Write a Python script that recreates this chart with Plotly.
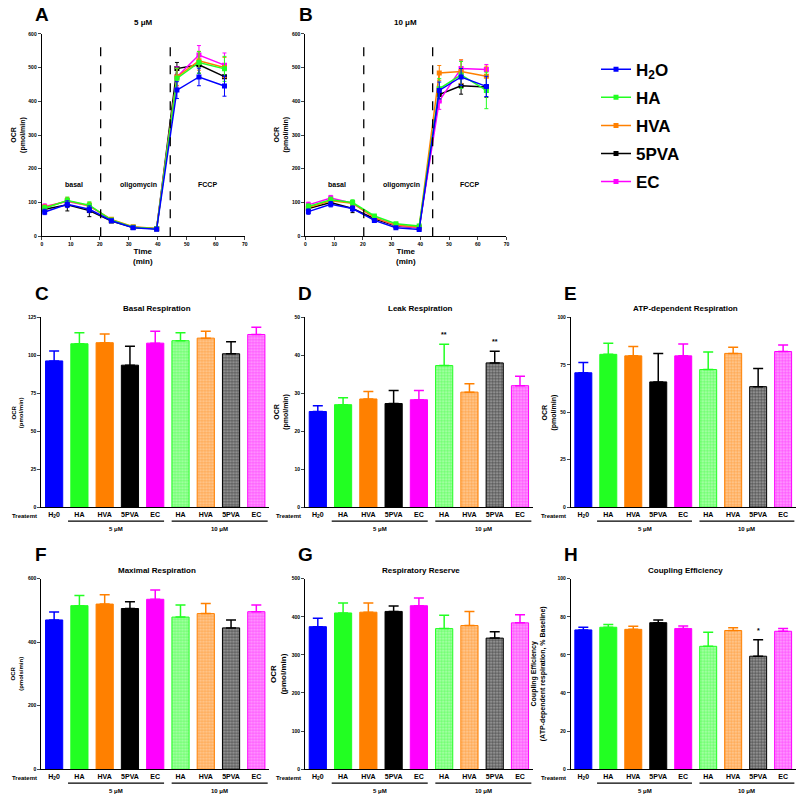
import plotly.graph_objects as go

# ---------------- DATA ----------------
treatments = ["H<sub>2</sub>O", "HA", "HVA", "5PVA", "EC"]
treatment_colors = ["#0000FF", "#22FF22", "#FF8000", "#000000", "#FF00FF"]

time_min = [1.0, 8.8, 16.4, 24.0, 31.5, 39.6, 46.6, 54.2, 63.0]
injection_times = [20.3, 44.3]
phase_labels = ["basal", "oligomycin", "FCCP"]
phase_label_x = [11, 33.5, 57]
phase_label_y = [153, 153, 153]

# Panel A: 5 uM time course (OCR pmol/min) and SEM
ocr_5uM_H2O = [72, 95, 80, 46, 25, 21, 433, 472, 445]
ocr_5uM_HA = [83, 106, 92, 48, 27, 22, 468, 515, 496]
ocr_5uM_HVA = [85, 105, 90, 50, 28, 23, 472, 520, 500]
ocr_5uM_5PVA = [80, 93, 76, 45, 26, 22, 497, 508, 473]
ocr_5uM_EC = [88, 103, 90, 48, 27, 22, 472, 537, 507]
sem_5uM_H2O = [8, 10, 10, 4, 3, 3, 25, 26, 30]
sem_5uM_HA = [8, 10, 10, 4, 3, 3, 30, 32, 37]
sem_5uM_HVA = [8, 10, 10, 4, 3, 3, 25, 28, 30]
sem_5uM_5PVA = [10, 18, 18, 4, 3, 3, 18, 25, 30]
sem_5uM_EC = [8, 10, 8, 4, 3, 3, 30, 28, 36]

# Panel B: 10 uM time course
ocr_10uM_H2O = [73, 95, 82, 47, 25, 20, 432, 472, 444]
ocr_10uM_HA = [88, 108, 100, 60, 37, 30, 437, 478, 432]
ocr_10uM_HVA = [85, 105, 98, 55, 33, 27, 484, 488, 474]
ocr_10uM_5PVA = [82, 100, 82, 52, 30, 25, 420, 446, 442]
ocr_10uM_EC = [93, 113, 98, 55, 32, 25, 401, 497, 494]
sem_10uM_H2O = [8, 8, 8, 4, 3, 3, 25, 25, 30]
sem_10uM_HA = [8, 8, 8, 4, 3, 3, 30, 40, 54]
sem_10uM_HVA = [8, 8, 8, 4, 3, 3, 22, 35, 30]
sem_10uM_5PVA = [8, 8, 12, 4, 3, 3, 20, 25, 30]
sem_10uM_EC = [8, 8, 8, 4, 3, 3, 25, 25, 15]

# Bar panels
bar_labels = ["H<sub>2</sub>0", "HA", "HVA", "5PVA", "EC", "HA", "HVA", "5PVA", "EC"]
bar_colors = ["#0000FF", "#22FF22", "#FF8000", "#000000", "#FF00FF",
              "#22FF22", "#FF8000", "#000000", "#FF00FF"]
bar_tints = ["#0000FF", "#22FF22", "#FF8000", "#000000", "#FF00FF",
             "#B5FFB5", "#FFCFA0", "#A8A8A8", "#FFAAFF"]
bar_patterned = [False, False, False, False, False, True, True, True, True]
group_labels = ["5 \u03bcM", "10 \u03bcM"]

basal_mean = [96.3, 107.6, 108.3, 93.5, 108.0, 109.6, 111.3, 101.0, 113.7]
basal_sem = [6.5, 7.2, 5.7, 12.4, 7.9, 5.2, 4.6, 7.9, 4.8]
leak_mean = [25.2, 27.0, 28.5, 27.3, 28.3, 37.3, 30.3, 38.0, 32.0]
leak_sem = [1.5, 1.8, 2.0, 3.4, 2.4, 5.6, 2.2, 3.1, 2.5]
leak_sig = ["", "", "", "", "", "**", "", "**", ""]
atp_mean = [70.8, 80.5, 79.7, 66.0, 79.7, 72.5, 81.0, 63.5, 82.0]
atp_sem = [5.4, 5.9, 5.0, 14.9, 6.2, 9.2, 3.3, 9.5, 3.4]
maximal_mean = [470, 515, 520, 506, 535, 479, 490, 445, 496]
maximal_sem = [25, 32, 29, 21, 29, 38, 32, 25, 21]
reserve_mean = [374, 410, 412, 414, 429, 369, 377, 344, 384]
reserve_sem = [22, 26, 24, 14, 20, 35, 37, 17, 21]
coupling_mean = [73.1, 74.5, 73.4, 76.9, 73.8, 64.5, 72.8, 59.3, 72.4]
coupling_sem = [1.4, 1.4, 1.6, 1.4, 1.4, 7.4, 1.5, 8.6, 1.4]
coupling_sig = ["", "", "", "", "", "", "", "*", ""]

# ---------------- LAYOUT HELPERS ----------------
W, H = 800, 801
FONT = "Arial, Liberation Sans, sans-serif"


def fx(p):
    return p / W


def fy(p):
    return 1 - p / H


fig = go.Figure()
annotations = []
shapes = []


def ann(text, x, y, size, xref="paper", yref="paper", angle=0, xanchor="center", yanchor="middle"):
    annotations.append(dict(text=text, x=x, y=y, xref=xref, yref=yref, showarrow=False,
                            textangle=angle, xanchor=xanchor, yanchor=yanchor,
                            font=dict(family=FONT, size=size, color="black")))


def axis_cfg(dom, rng, **kw):
    d = dict(domain=dom, range=rng, showgrid=False, zeroline=False, showline=True,
             linecolor="black", linewidth=1.2, fixedrange=True,
             tickfont=dict(family=FONT, size=5, color="black", weight="bold"))
    d.update(kw)
    return d


layout_axes = {}

# ---------------- LINE PANELS (A, B) ----------------
line_panels = [
    dict(ax="", x=(41, 245), y=(31, 235), title="5 \u03bcM", letter="A",
         series=[ocr_5uM_H2O, ocr_5uM_HA, ocr_5uM_HVA, ocr_5uM_5PVA, ocr_5uM_EC],
         errs=[sem_5uM_H2O, sem_5uM_HA, sem_5uM_HVA, sem_5uM_5PVA, sem_5uM_EC], ylab_x=17),
    dict(ax="2", x=(306, 508), y=(31, 235), title="10 \u03bcM", letter="B",
         series=[ocr_10uM_H2O, ocr_10uM_HA, ocr_10uM_HVA, ocr_10uM_5PVA, ocr_10uM_EC],
         errs=[sem_10uM_H2O, sem_10uM_HA, sem_10uM_HVA, sem_10uM_5PVA, sem_10uM_EC], ylab_x=281),
]
order = [3, 4, 2, 1, 0]
for pi, p in enumerate(line_panels):
    xa, ya = "x" + p["ax"], "y" + p["ax"]
    for k in order:
        fig.add_trace(go.Scatter(
            x=time_min, y=p["series"][k], xaxis=xa, yaxis=ya, mode="lines+markers",
            name=treatments[k], legendgroup=treatments[k], legendrank=k,
            showlegend=(pi == 0),
            line=dict(color=treatment_colors[k], width=1.5),
            marker=dict(symbol="square", size=5, color=treatment_colors[k]),
            error_y=dict(type="data", array=p["errs"][k], color=treatment_colors[k],
                         thickness=1, width=2)))
    layout_axes["xaxis" + p["ax"]] = axis_cfg(
        [fx(p["x"][0]), fx(p["x"][1])], [0, 70], anchor=ya,
        tickvals=list(range(0, 71, 10)), ticks="outside", ticklen=3, tickwidth=1)
    layout_axes["yaxis" + p["ax"]] = axis_cfg(
        [fy(p["y"][1]), fy(p["y"][0])], [0, 600], anchor=xa,
        tickvals=list(range(0, 601, 100)), ticks="outside", ticklen=3, tickwidth=1)
    for t in injection_times:
        shapes.append(dict(type="line", xref=xa, yref=ya, x0=t, x1=t, y0=0, y1=565,
                           line=dict(color="black", width=1.3, dash="dash")))
    for lab, lx, ly in zip(phase_labels, phase_label_x, phase_label_y):
        ann("<b>%s</b>" % lab, lx, ly, 7, xref=xa, yref=ya)
    cx = (p["x"][0] + p["x"][1]) / 2
    ann("<b>%s</b>" % p["title"], fx(cx), fy(20), 8)
    ann("<b>%s</b>" % p["letter"], fx(p["x"][0] - 9), fy(12), 19, xanchor="left")
    ann("<b>Time<br>(min)</b>", fx(cx), fy(255), 8)
    ann("<b>OCR<br>(pmol/min)</b>", fx(p["ylab_x"]), fy(133), 7, angle=-90)

# ---------------- BAR PANELS (C-H) ----------------
bar_panels = [
    dict(ax="3", x=(40.7, 269.3), y=(316.7, 508), rng=125, dt=25, title="Basal Respiration",
         letter="C", mean=basal_mean, sem=basal_sem, sig=None,
         ylab="OCR<br>(pmol/min)", ylab_x=17, ylab_size=6),
    dict(ax="4", x=(305.7, 534.3), y=(316.7, 508), rng=50, dt=10, title="Leak Respiration",
         letter="D", mean=leak_mean, sem=leak_sem, sig=leak_sig,
         ylab="OCR<br>(pmol/min)", ylab_x=282, ylab_size=7),
    dict(ax="5", x=(572.7, 798.6), y=(316.7, 508), rng=100, dt=25, title="ATP-dependent Respiration",
         letter="E", mean=atp_mean, sem=atp_sem, sig=None,
         ylab="OCR<br>(pmol/min)", ylab_x=551, ylab_size=7),
    dict(ax="6", x=(40.7, 269.3), y=(580, 772), rng=600, dt=200, title="Maximal Respiration",
         letter="F", mean=maximal_mean, sem=maximal_sem, sig=None,
         ylab="OCR<br>(pmols/min)", ylab_x=16, ylab_size=6),
    dict(ax="7", x=(305.7, 534.3), y=(580, 772), rng=500, dt=100, title="Respiratory Reserve",
         letter="G", mean=reserve_mean, sem=reserve_sem, sig=None,
         ylab="OCR<br>(pmol/min)", ylab_x=279, ylab_size=8),
    dict(ax="8", x=(572.7, 798.6), y=(580, 772), rng=100, dt=20, title="Coupling Efficiency",
         letter="H", mean=coupling_mean, sem=coupling_sem, sig=coupling_sig,
         ylab="Coupling Efficiency<br>(ATP-dependent respiration, % Baseline)", ylab_x=541,
         ylab_size=7),
]

for p in bar_panels:
    xa, ya = "x" + p["ax"], "y" + p["ax"]
    for i in range(len(bar_labels)):
        c = bar_colors[i]
        marker = dict(color=c, line=dict(color=c, width=1))
        if bar_patterned[i]:
            marker["pattern"] = dict(shape=".", fgcolor=c, bgcolor=bar_tints[i], size=3,
                                     solidity=0.6, fillmode="overlay")
            marker["color"] = bar_tints[i]
        fig.add_trace(go.Bar(
            x=[i], y=[p["mean"][i]], xaxis=xa, yaxis=ya, width=0.68, showlegend=False,
            marker=marker,
            error_y=dict(type="data", symmetric=False, array=[p["sem"][i]], arrayminus=[0],
                         color=c, thickness=1.5, width=5)))
        if p["sig"] and p["sig"][i]:
            ann("<b>%s</b>" % p["sig"][i], i, p["mean"][i] + p["sem"][i], 7,
                xref=xa, yref=ya, yanchor="bottom")
            annotations[-1]["yshift"] = 4
    layout_axes["xaxis" + p["ax"]] = axis_cfg(
        [fx(p["x"][0]), fx(p["x"][1])], [-0.5, 8.5], anchor=ya,
        tickvals=list(range(len(bar_labels))), ticktext=["<b>%s</b>" % t for t in bar_labels],
        ticks="", tickfont=dict(family=FONT, size=7, color="black", weight="bold"))
    layout_axes["yaxis" + p["ax"]] = axis_cfg(
        [fy(p["y"][1]), fy(p["y"][0])], [0, p["rng"]], anchor=xa,
        tickvals=list(range(0, p["rng"] + 1, p["dt"])), ticks="outside", ticklen=3, tickwidth=1)
    bottom = p["y"][1]
    cx = (p["x"][0] + p["x"][1]) / 2
    ann("<b>%s</b>" % p["title"], fx(cx + 2), fy(p["y"][0] - 8.5), 8)
    ann("<b>%s</b>" % p["letter"], fx(p["x"][0] - 9), fy(p["y"][0] - 24), 19, xanchor="left")
    ann("<b>Treatemt</b>", fx(p["x"][0] - 17), fy(bottom + 9), 6)
    ann("<b>%s</b>" % p["ylab"], fx(p["ylab_x"]), fy((p["y"][0] + p["y"][1]) / 2),
        p["ylab_size"], angle=-90)
    # group underline + labels
    for (g0, g1), gl in zip([(0.55, 4.35), (4.65, 8.45)], group_labels):
        shapes.append(dict(type="line", xref=xa, yref="paper", x0=g0, x1=g1,
                           y0=fy(bottom + 14), y1=fy(bottom + 14),
                           line=dict(color="black", width=1.2)))
        ann("<b>%s</b>" % gl, (g0 + g1) / 2, fy(bottom + 21.5), 6, xref=xa)

fig.update_layout(
    width=W, height=H, margin=dict(l=0, r=0, t=0, b=0),
    paper_bgcolor="white", plot_bgcolor="white",
    font=dict(family=FONT, color="black"),
    annotations=annotations, shapes=shapes, bargap=0.3,
    legend=dict(x=fx(598), y=fy(49), xanchor="left", yanchor="top",
                font=dict(family=FONT, size=17, color="black", weight="bold"),
                bgcolor="rgba(0,0,0,0)", itemwidth=30, tracegroupgap=3,
                traceorder="grouped"),
    **layout_axes,
)

fig.write_html("out.html", config={"displayModeBar": False},
               post_script="document.body.style.margin='0px';")
